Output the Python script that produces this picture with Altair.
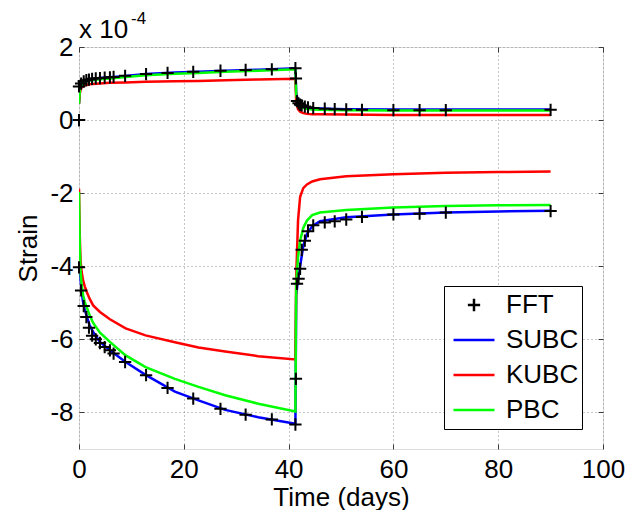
import altair as alt
import pandas as pd

# ---------------- data (strain values in units of 1e-4) ----------------
METHODS = ["FFT", "SUBC", "KUBC", "PBC"]
COLORS = ["#000000", "#0000ff", "#ff0000", "#00ff00"]
PLUS = "M-0.3,0H0.3M0,-0.3V0.3"
SHAPES = [PLUS, "stroke", "stroke", "stroke"]

X_TICKS = [0, 20, 40, 60, 80, 100]
Y_TICKS = [-8, -6, -4, -2, 0, 2]

T_LINE = [0, 0.15, 0.3, 0.5, 0.8, 1.1, 1.5, 2, 2.7, 4, 5.9, 8.9, 12.7, 18.3, 22.8, 27.9, 34.2, 41.3,
          41.45, 41.8, 42.2, 42.8, 43.5, 44.5, 46, 51, 60, 70, 80, 90]

SUBC_UP = [0.45, 0.85, 0.93, 0.98, 1.03, 1.06, 1.09, 1.11, 1.13, 1.15, 1.17, 1.21, 1.26, 1.30, 1.32,
           1.35, 1.38, 1.42, 0.75, 0.50, 0.42, 0.38, 0.35, 0.33, 0.32, 0.30, 0.29, 0.29, 0.29, 0.29]
KUBC_UP = [0.45, 0.72, 0.83, 0.89, 0.93, 0.95, 0.97, 0.98, 0.99, 1.00, 1.02, 1.03, 1.05, 1.06, 1.07,
           1.09, 1.11, 1.13, 0.50, 0.30, 0.23, 0.19, 0.17, 0.16, 0.16, 0.15, 0.14, 0.14, 0.14, 0.14]
PBC_UP = [0.45, 0.80, 0.89, 0.95, 1.00, 1.03, 1.06, 1.08, 1.10, 1.12, 1.14, 1.18, 1.23, 1.27, 1.29,
          1.32, 1.35, 1.39, 0.70, 0.46, 0.38, 0.34, 0.31, 0.29, 0.28, 0.27, 0.26, 0.26, 0.26, 0.26]

SUBC_LOW = [-3.0, -3.9, -4.35, -4.70, -5.00, -5.18, -5.38, -5.60, -5.80, -6.07, -6.30, -6.62, -6.97,
            -7.43, -7.67, -7.93, -8.13, -8.31, -4.8, -4.35, -4.0, -3.45, -3.12, -2.90, -2.77, -2.66,
            -2.58, -2.53, -2.50, -2.48]
KUBC_LOW = [-1.88, -3.2, -3.85, -4.15, -4.40, -4.55, -4.71, -4.88, -5.07, -5.25, -5.45, -5.70, -5.89,
            -6.08, -6.22, -6.33, -6.46, -6.55, -4.3, -2.75, -2.10, -1.86, -1.76, -1.68, -1.62, -1.54,
            -1.48, -1.44, -1.42, -1.41]
PBC_LOW = [-1.97, -3.5, -4.15, -4.50, -4.80, -4.98, -5.13, -5.33, -5.55, -5.82, -6.07, -6.44, -6.76,
           -7.08, -7.30, -7.53, -7.76, -7.97, -4.5, -3.75, -3.30, -2.95, -2.75, -2.60, -2.53, -2.46,
           -2.39, -2.35, -2.33, -2.32]

T_FFT = [0, 0, 0.4, 0.9, 1.4, 1.9, 2.5, 3.2, 4.0, 4.9, 5.9, 6.6, 8.8, 12.8, 16.9, 21.8, 27, 31.8,
         36.8, 41.3, 41.4, 41.6, 41.9, 42.2, 42.5, 43.1, 43.7, 44.7, 46.9, 48.8, 51, 54, 60, 65, 70, 90]
FFT_UP = [0, 0.92, 1.00, 1.06, 1.09, 1.11, 1.13, 1.14, 1.15, 1.16, 1.17, 1.18, 1.21, 1.26, 1.29,
          1.32, 1.35, 1.37, 1.39, 1.42, 1.14, 0.52, 0.46, 0.42, 0.40, 0.37, 0.35, 0.33, 0.31, 0.30,
          0.29, 0.28, 0.27, 0.27, 0.27, 0.28]
FFT_LOW = [0, -4.03, -4.66, -5.09, -5.39, -5.68, -5.90, -6.00, -6.10, -6.21, -6.30, -6.39, -6.62,
           -6.98, -7.33, -7.62, -7.90, -8.06, -8.19, -8.33, -7.08, -4.48, -4.34, -4.07, -3.55, -3.30,
           -3.04, -2.88, -2.80, -2.77, -2.72, -2.65, -2.58, -2.56, -2.53, -2.49]

EXP_TEXT = ["x 10", "-4"]

# ---------------- tables ----------------
rows = []
for name, up, low in [("SUBC", SUBC_UP, SUBC_LOW), ("KUBC", KUBC_UP, KUBC_LOW), ("PBC", PBC_UP, PBC_LOW)]:
    for branch, vals in [("up", up), ("low", low)]:
        for i, (t, v) in enumerate(zip(T_LINE, vals)):
            rows.append({"t": t, "strain": v, "method": name, "branch": branch, "i": i})
lines_df = pd.DataFrame(rows)

frows = []
for branch, vals in [("up", FFT_UP), ("low", FFT_LOW)]:
    for t, v in zip(T_FFT, vals):
        frows.append({"t": t, "strain": v, "method": "FFT", "branch": branch})
fft_df = pd.DataFrame(frows)

# ---------------- style ----------------
FONT = "Liberation Sans"
FRAME = "#3c3c3c"
GRID = "#8c8c8c"

xs = alt.Scale(domain=[0, 100], nice=False, zero=False)
ys = alt.Scale(domain=[-9, 2], nice=False, zero=False)

common = dict(domain=False, ticks=True, tickColor=FRAME, tickWidth=1, tickSize=5, offset=-5,
              labelFont=FONT, labelFontSize=26, labelColor="black",
              titleFont=FONT, titleFontSize=26, titleFontWeight="normal", titleColor="black",
              labelFlush=False, labelOverlap=False, labelBound=False)

x_bottom = alt.X("t:Q", scale=xs, axis=alt.Axis(
    orient="bottom", values=X_TICKS, title="Time (days)", grid=True, gridDash=[1, 3],
    gridColor=GRID, gridWidth=1, labelPadding=7, titlePadding=2, **common))
y_left = alt.Y("strain:Q", scale=ys, axis=alt.Axis(
    orient="left", values=Y_TICKS, title="Strain", grid=True, gridDash=[1, 3],
    gridColor=GRID, gridWidth=1, labelPadding=6, titlePadding=8,
    labelExpr="toString(datum.value)", **common))

x_top = alt.X("t:Q", scale=xs, axis=alt.Axis(
    orient="top", values=X_TICKS, labels=False, title=None, grid=False, domain=False,
    ticks=True, tickSize=5, offset=-5, tickColor=FRAME))
y_right = alt.Y("strain:Q", scale=ys, axis=alt.Axis(
    orient="right", values=Y_TICKS, labels=False, title=None, grid=False, domain=False,
    ticks=True, tickSize=5, offset=-5, tickColor=FRAME))

LEG = alt.Legend(orient="none", legendX=365, legendY=239, title=None, symbolType="stroke",
                 symbolSize=1681, symbolStrokeWidth=2.5, labelFont=FONT, labelFontSize=26,
                 labelColor="black", padding=3, rowPadding=3, clipHeight=32, symbolOffset=5,
                 labelOffset=10, strokeColor="black", fillColor="white", cornerRadius=0)

color_enc = alt.Color("method:N", scale=alt.Scale(domain=METHODS, range=COLORS), legend=LEG)
shape_enc = alt.Shape("method:N", scale=alt.Scale(domain=METHODS, range=SHAPES), legend=LEG)

lines = alt.Chart(lines_df).mark_line(strokeWidth=2.5, clip=True).encode(
    x=x_bottom, y=y_left, color=color_enc, detail="branch:N", order="i:Q")

points = alt.Chart(fft_df).mark_point(filled=False, strokeWidth=2, opacity=1, size=1681).encode(
    x=x_top, y=y_right, color=color_enc, shape=shape_enc)

exp_base = alt.Chart(pd.DataFrame({"txt": [EXP_TEXT[0]]})).mark_text(
    font=FONT, fontSize=26, align="left", baseline="alphabetic", dx=0, dy=-9, color="black").encode(
    x=alt.XDatum(0, type="quantitative", axis=None), y=alt.YDatum(2, type="quantitative", axis=None),
    text="txt:N")
exp_sup = alt.Chart(pd.DataFrame({"txt": [EXP_TEXT[1]]})).mark_text(
    font=FONT, fontSize=17, align="left", baseline="alphabetic", dx=52, dy=-23, color="black").encode(
    x=alt.XDatum(0, type="quantitative", axis=None), y=alt.YDatum(2, type="quantitative", axis=None),
    text="txt:N")

chart = alt.layer(lines, points, exp_base, exp_sup).resolve_axis(
    x="independent", y="independent"
).properties(
    width=524, height=402,
    padding={"left": 79, "top": 47, "right": 35, "bottom": 61},
    autosize=alt.AutoSizeParams(type="none"),
).configure_view(stroke=FRAME, strokeWidth=1).configure(background="white")

chart.save("out.html", embed_options={"renderer": "svg", "actions": False})
